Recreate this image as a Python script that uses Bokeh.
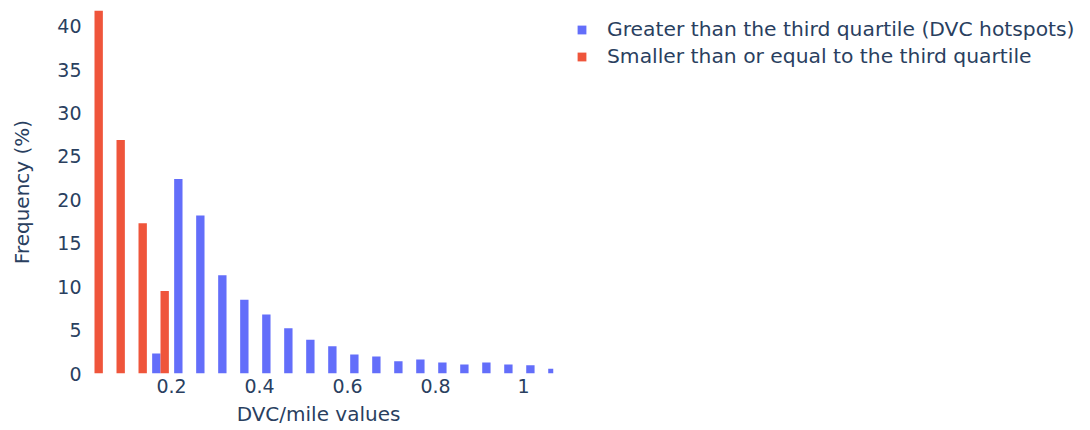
from bokeh.plotting import figure
from bokeh.models import Range1d, FixedTicker, Legend, LegendItem, ColumnDataSource
from bokeh.embed import file_html
from bokeh.resources import INLINE

# ---- data ----
bin_width = 0.05
bar_width = 0.019
series_names = ["Greater than the third quartile (DVC hotspots)",
                "Smaller than or equal to the third quartile"]
series_colors = ["#636efa", "#EF553B"]

hot_bin_starts = [0.15, 0.20, 0.25, 0.30, 0.35, 0.40, 0.45, 0.50, 0.55, 0.60,
                  0.65, 0.70, 0.75, 0.80, 0.85, 0.90, 0.95, 1.00, 1.05]
hot_freq = [2.3, 22.4, 18.2, 11.3, 8.5, 6.8, 5.2, 3.9, 3.15, 2.2,
            1.95, 1.4, 1.6, 1.27, 1.04, 1.27, 1.04, 0.96, 0.54]

low_bin_starts = [0.00, 0.05, 0.10, 0.15]
low_freq = [46.3, 26.9, 17.3, 9.5]

x_ticks = [0.2, 0.4, 0.6, 0.8, 1.0]
x_tick_labels = ["0.2", "0.4", "0.6", "0.8", "1"]
y_ticks = [0, 5, 10, 15, 20, 25, 30, 35, 40]

x_title = "DVC/mile values"
y_title = "Frequency (%)"

FONT = "DejaVu Sans"
TXT = "#2a3f5f"

p = figure(frame_width=470, frame_height=363, output_backend="svg",
           toolbar_location=None,
           x_range=Range1d(0, 1.068), y_range=Range1d(0, 41.8),
           min_border_left=83, min_border_right=0, min_border_top=10,
           min_border_bottom=0)
p.outline_line_color = None
p.xgrid.visible = False
p.ygrid.visible = False

hot_x = [s + bin_width / 2 - bar_width / 2 for s in hot_bin_starts]
low_x = [s + bin_width / 2 + bar_width / 2 for s in low_bin_starts]
src_hot = ColumnDataSource(dict(x=hot_x, top=hot_freq))
src_low = ColumnDataSource(dict(x=low_x, top=low_freq))
r_hot = p.vbar(x="x", top="top", width=bar_width, bottom=0, source=src_hot,
               fill_color=series_colors[0], line_color=None)
r_low = p.vbar(x="x", top="top", width=bar_width, bottom=0, source=src_low,
               fill_color=series_colors[1], line_color=None)

for ax in (p.xaxis[0], p.yaxis[0]):
    ax.axis_line_color = None
    ax.major_tick_line_color = None
    ax.minor_tick_line_color = None
    ax.major_tick_out = 0
    ax.major_tick_in = 0
    ax.major_label_text_font = FONT
    ax.major_label_text_color = TXT
    ax.major_label_text_font_size = "19px"
    ax.axis_label_text_font = FONT
    ax.axis_label_text_color = TXT
    ax.axis_label_text_font_size = "20px"
    ax.axis_label_text_font_style = "normal"

p.xaxis.ticker = FixedTicker(ticks=x_ticks)
p.xaxis.major_label_overrides = {t: l for t, l in zip(x_ticks, x_tick_labels)}
p.xaxis.major_label_standoff = 5
p.xaxis.axis_label = x_title
p.xaxis.axis_label_standoff = 6

p.yaxis.ticker = FixedTicker(ticks=y_ticks)
p.yaxis.major_label_standoff = 2
p.yaxis.axis_label = y_title
p.yaxis.axis_label_standoff = 20

legend = Legend(items=[LegendItem(label=series_names[0], renderers=[r_hot]),
                       LegendItem(label=series_names[1], renderers=[r_low])],
                location=(23, 305), orientation="vertical")
legend.border_line_color = None
legend.background_fill_alpha = 0
legend.padding = 0
legend.margin = 14
legend.spacing = 3
legend.glyph_width = 11
legend.glyph_height = 11
legend.label_standoff = 20
legend.label_text_font = FONT
legend.label_text_color = TXT
legend.label_text_font_size = "20.3px"
p.add_layout(legend, "right")

open("out.html", "w").write(file_html(p, INLINE))
